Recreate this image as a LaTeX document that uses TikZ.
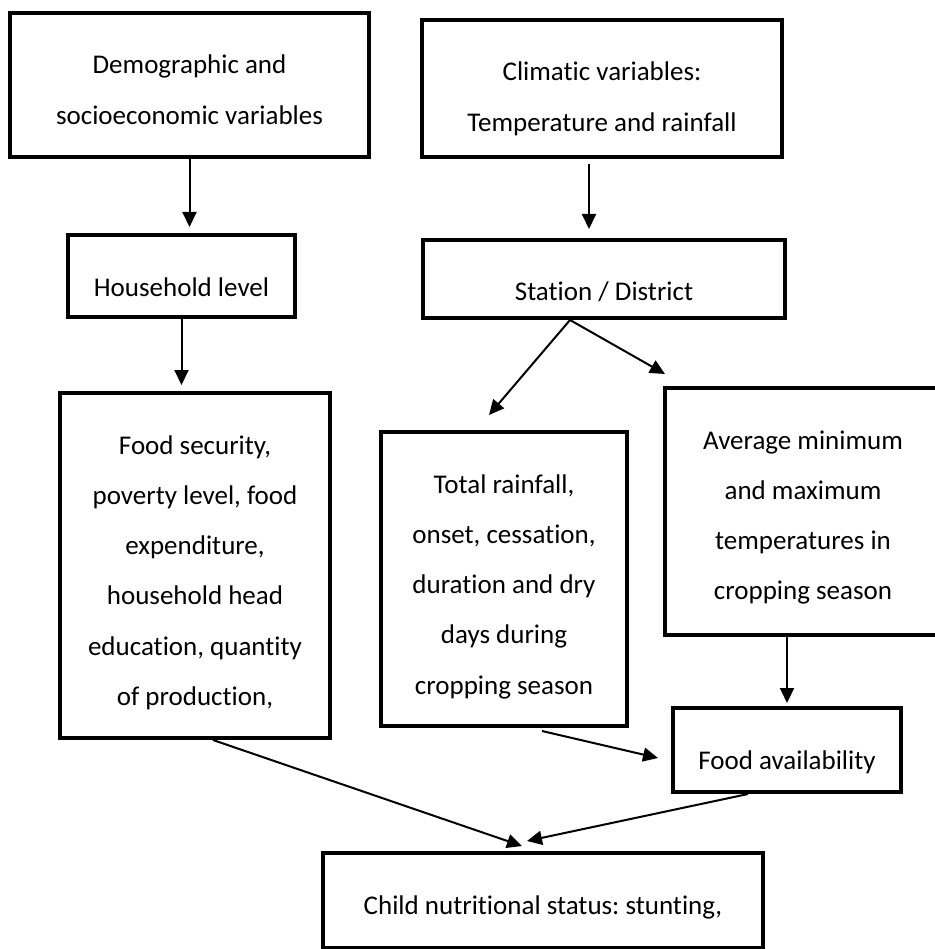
\documentclass[tikz,border=0pt]{standalone}
\usepackage{fontspec}
\setmainfont{Carlito}[Ligatures=NoCommon]
\usetikzlibrary{arrows.meta}

\tikzset{
	box/.style={draw, line width=4pt, inner sep=0pt, anchor=base, align=flush center,
		text height=61pt, font=\fontsize{27}{50.3}\selectfont\frenchspacing},
	link/.style={line width=2pt, -{Triangle[length=15pt,width=14pt]}}
}

\begin{document}
\begin{tikzpicture}[x=1pt,y=-1pt]
	\useasboundingbox (0,0) rectangle (934,949);
	% sources
	\node[box, text width=359pt, text depth=83pt] (demo) at (189.5,74) {Demographic and\\socioeconomic variables};
	\node[box, text width=360pt, text depth=76pt] (clim) at (602,81) {Climatic variables:\\Temperature and rainfall};
	% levels
	\node[box, text width=227pt, text depth=21pt] (house) at (181.5,296) {Household level};
	\node[box, text width=362pt, text depth=17pt] (station) at (604,301) {Station / District};
	% indicators
	\node[box, text width=270pt, text depth=284pt] (foodsec) at (195,454) {Food security,\\poverty level, food\\expenditure,\\household head\\education, quantity\\of production,};
	\node[box, text width=246pt, text depth=233pt] (rain) at (504,493) {Total rainfall,\\onset, cessation,\\duration and dry\\days during\\cropping season};
	\node[box, text width=276pt, text depth=186pt] (avg) at (803,449) {Average minimum\\and maximum\\temperatures in\\cropping season};
	\node[box, text width=228pt, text depth=23pt] (avail) at (787,769) {Food availability};
	\node[box, text width=440pt, text depth=34pt] (child) at (543,914) {Child nutritional status: stunting,};

	\coordinate (fork) at ([xshift=-34pt]station.south);
	\path[link]	(demo.south) edge[shorten >=6pt] (demo.south |- house.north)
			([xshift=-13pt]clim.south) edge[shorten <=5pt, shorten >=9pt] ([xshift=-13pt]clim.south |- station.north)
			(house.south) edge[shorten >=6pt] (house.south |- foodsec.north)
			(fork) edge ([shift={(-15pt,15pt)}]rain.north)
			(fork) edge ([shift={(2pt,12pt)}]avg.north west)
			(avail.north |- avg.south) edge[shorten >=3pt] (avail.north)
			([shift={(38pt,-3pt)}]rain.south) edge ([shift={(-13pt,-8pt)}]avail.west)
			([xshift=18pt]foodsec.south) edge ([shift={(-21pt,5pt)}]child.north)
			([xshift=-39pt]avail.south) edge ([shift={(-16pt,10pt)}]child.north);
\end{tikzpicture}
\end{document}
